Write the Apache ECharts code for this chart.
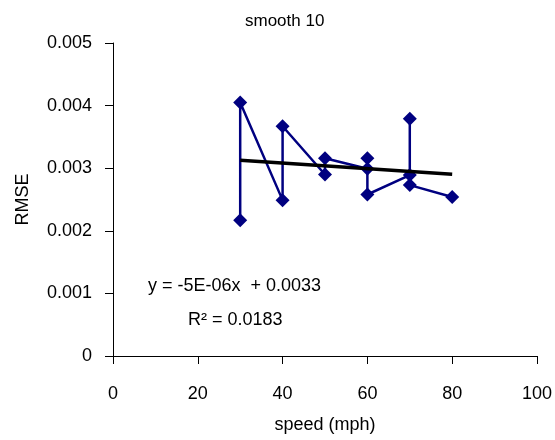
<!DOCTYPE html>
<html>
<head>
<meta charset="utf-8">
<script src="https://cdn.jsdelivr.net/npm/echarts@6/dist/echarts.min.js"></script>
<style>html,body{margin:0;padding:0;background:#fff;}#c{width:555px;height:440px;}</style>
</head>
<body>
<div id="c"></div>
<script>
var speeds = [30, 30, 40, 40, 50, 50, 60, 60, 60, 70, 70, 70, 80];
var rmse = [0.00217, 0.00405, 0.00249, 0.00367, 0.00290, 0.00316, 0.00299, 0.00316, 0.00258, 0.00289, 0.00379, 0.00273, 0.00254];
var trendX = [30, 80];
var trendY = [0.003127, 0.002904];
var titleText = 'smooth 10';
var xName = 'speed (mph)';
var yName = 'RMSE';
var eqText = 'y = -5E-06x  + 0.0033';
var r2Text = 'R\u00B2 = 0.0183';

var font = '"Liberation Sans", Arial, sans-serif';
var chart = echarts.init(document.getElementById('c'), null, {renderer: 'canvas'});
chart.setOption({
  animation: false,
  backgroundColor: '#fff',
  title: {
    text: titleText, left: 240, top: 8,
    textStyle: {fontFamily: font, fontSize: 17, fontWeight: 'normal', color: '#000'}
  },
  grid: {left: 113, right: 18, top: 43, bottom: 84, containLabel: false},
  xAxis: {
    type: 'value', min: 0, max: 100, interval: 20,
    name: xName, nameLocation: 'middle', nameGap: 60,
    nameTextStyle: {fontFamily: font, fontSize: 18, color: '#000'},
    axisLine: {show: true, onZero: false, lineStyle: {color: '#000', width: 1}},
    axisTick: {show: true, inside: false, length: 8, lineStyle: {color: '#000'}},
    axisLabel: {margin: 29, fontFamily: font, fontSize: 18, color: '#000'},
    splitLine: {show: false}
  },
  yAxis: {
    type: 'value', min: 0, max: 0.005, interval: 0.001,
    name: yName, nameLocation: 'middle', nameGap: 81, nameRotate: 90,
    nameTextStyle: {fontFamily: font, fontSize: 18, color: '#000'},
    axisLine: {show: true, onZero: false, lineStyle: {color: '#000', width: 1}},
    axisTick: {show: true, inside: false, length: 8, lineStyle: {color: '#000'}},
    axisLabel: {margin: 21, fontFamily: font, fontSize: 18, color: '#000',
      formatter: function (v) { return v === 0 ? '0' : v.toFixed(3); }},
    splitLine: {show: false}
  },
  series: [
    {
      type: 'line',
      data: speeds.map(function (s, i) { return [s, rmse[i]]; }),
      symbol: 'diamond', symbolSize: 14,
      itemStyle: {color: '#000080'},
      lineStyle: {color: '#000080', width: 2.5},
      z: 2
    },
    {
      type: 'line',
      data: trendX.map(function (s, i) { return [s, trendY[i]]; }),
      symbol: 'none',
      lineStyle: {color: '#000', width: 3.5},
      z: 3
    }
  ],
  graphic: [
    {type: 'text', left: 148, top: 277, style: {text: eqText, font: '18px ' + font, fill: '#000'}},
    {type: 'text', left: 188, top: 311, style: {text: r2Text, font: '18px ' + font, fill: '#000'}}
  ]
});
</script>
</body>
</html>
